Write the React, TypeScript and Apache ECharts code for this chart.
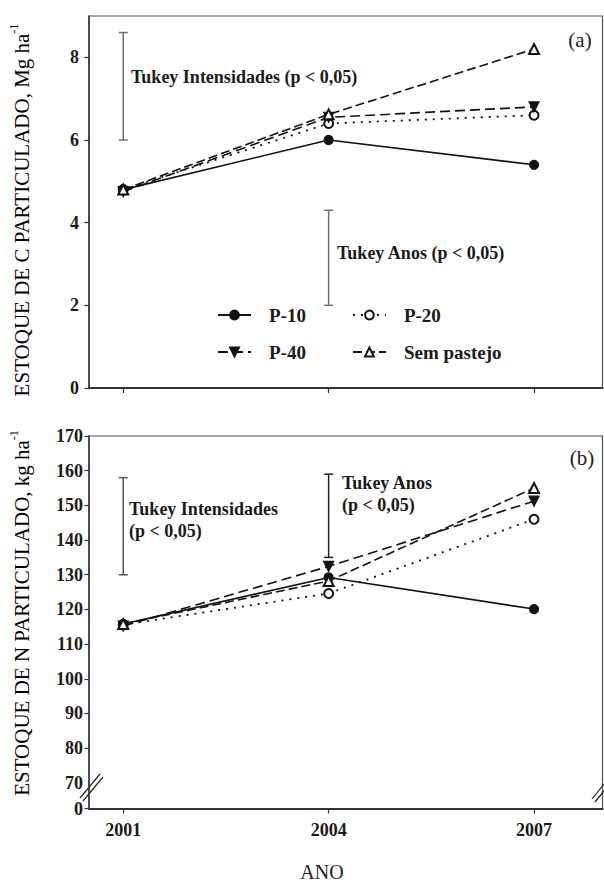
import React, { useEffect, useRef } from 'react';
import * as echarts from 'echarts';

// ---- data ----
const years = [2001, 2004, 2007];
const legendRow1 = ['P-10', 'P-20'];
const legendRow2 = ['P-40', 'Sem pastejo'];

// (a) Estoque de C particulado, Mg/ha
const cP10 = [4.8, 6.0, 5.4];
const cP20 = [4.8, 6.4, 6.6];
const cP40 = [4.75, 6.55, 6.8];
const cSem = [4.8, 6.62, 8.2];
// Tukey bars: [year, low, high]
const cTukey = [
  [2001, 6.0, 8.6],
  [2004, 2.0, 4.3],
];
const cTicks = [0, 2, 4, 6, 8];

// (b) Estoque de N particulado, kg/ha
const nP10 = [115.8, 129.2, 120.1];
const nP20 = [115.6, 124.6, 146.0];
const nP40 = [115.2, 132.4, 151.2];
const nSem = [115.8, 128.2, 155.0];
const nTukey = [
  [2001, 130, 158],
  [2004, 135, 159],
];
const nTickLabels = [70, 80, 90, 100, 110, 120, 130, 140, 150, 160, 170];
const nBreakValue = 62.6; // bottom of broken axis, labelled "0"

const FONT = 'Liberation Serif';

const pair = (vals: number[]) => years.map((y, i) => [y, vals[i]]);

const styleFor: Record<string, any> = {
  'P-10': { symbol: 'circle', symbolSize: 9, symbolRotate: 0, line: { type: 'solid', width: 1.6 } },
  'P-20': { symbol: 'emptyCircle', symbolSize: 9, symbolRotate: 0, line: { type: [2, 6], width: 1.8 } },
  'P-40': { symbol: 'triangle', symbolSize: 10, symbolRotate: 180, line: { type: [10, 5], width: 1.6 } },
  'Sem pastejo': { symbol: 'emptyTriangle', symbolSize: 10, symbolRotate: 0, line: { type: [9, 4], width: 1.6 } },
};

function lineSeries(name: string, vals: number[], idx: number) {
  const s = styleFor[name];
  return {
    type: 'line',
    name,
    xAxisIndex: idx,
    yAxisIndex: idx,
    data: pair(vals),
    symbol: s.symbol,
    symbolSize: s.symbolSize,
    symbolRotate: s.symbolRotate,
    showAllSymbol: true,
    itemStyle: { color: '#111', borderColor: '#111', borderWidth: 1.2 },
    lineStyle: { color: '#111', width: s.line.width, type: s.line.type },
    z: 3,
  };
}

function tukeySeries(data: number[][], idx: number, colors: string[]) {
  return {
    type: 'custom',
    name: 'tukey' + idx,
    xAxisIndex: idx,
    yAxisIndex: idx,
    data,
    silent: true,
    z: 2,
    renderItem: (params: any, api: any) => {
      const x = api.value(0);
      const lo = api.coord([x, api.value(1)]);
      const hi = api.coord([x, api.value(2)]);
      const w = 4.5;
      const style = { stroke: colors[params.dataIndex] || '#333', lineWidth: 1.5 };
      return {
        type: 'group',
        children: [
          { type: 'line', shape: { x1: lo[0], y1: lo[1], x2: hi[0], y2: hi[1] }, style },
          { type: 'line', shape: { x1: lo[0] - w, y1: lo[1], x2: lo[0] + w, y2: lo[1] }, style },
          { type: 'line', shape: { x1: hi[0] - w, y1: hi[1], x2: hi[0] + w, y2: hi[1] }, style },
        ],
      };
    },
  };
}

const tickLabelStyle = {
  fontFamily: FONT,
  fontWeight: 'bold',
  fontSize: 18,
  color: '#1a1a1a',
};

function axisName(text: string, x: number, y: number) {
  return {
    type: 'text',
    x,
    y,
    rotation: Math.PI / 2,
    style: {
      text: '{n|' + text + '}{s|-1}',
      align: 'center',
      verticalAlign: 'middle',
      rich: {
        n: { fontFamily: FONT, fontSize: 21, color: '#222', lineHeight: 24, verticalAlign: 'bottom' },
        s: { fontFamily: FONT, fontSize: 12, color: '#222', lineHeight: 14, verticalAlign: 'top' },
      },
    },
  };
}

function label(text: string, x: number, y: number, opts: any = {}) {
  return {
    type: 'text',
    x,
    y,
    style: {
      text,
      fontFamily: FONT,
      fontWeight: 'bold',
      fontSize: 18,
      fill: '#1a1a1a',
      align: 'left',
      verticalAlign: 'middle',
      lineHeight: 22,
      ...opts,
    },
  };
}

export default function App() {
  const ref = useRef<HTMLDivElement>(null);
  useEffect(() => {
    if (!ref.current) return;
    const chart = echarts.init(ref.current, null, { renderer: 'svg' });
    const legendBase = {
      orient: 'horizontal',
      padding: 0,
      itemWidth: 33,
      itemHeight: 11,
      itemGap: 46,
      selectedMode: false,
      textStyle: {
        fontFamily: FONT,
        fontWeight: 'bold',
        fontSize: 19,
        color: '#1a1a1a',
        padding: [0, 0, 0, 13],
        lineHeight: 20,
      },
    };
    const option: any = {
      animation: false,
      backgroundColor: '#fff',
      textStyle: { fontFamily: FONT },
      grid: [
        { left: 89, top: 16, width: 513.5, height: 372, show: true, borderColor: '#555', borderWidth: 1.2, backgroundColor: 'transparent' },
        { left: 89, top: 436, width: 513.5, height: 372.5, show: true, borderColor: '#555', borderWidth: 1.2, backgroundColor: 'transparent' },
      ],
      xAxis: [0, 1].map((i) => ({
        type: 'value',
        gridIndex: i,
        min: 2000.5,
        max: 2008,
        axisLine: { show: true, onZero: false, lineStyle: { color: '#333', width: 2 } },
        axisTick: { show: true, customValues: years, length: 5, lineStyle: { color: '#333', width: 1.2 } },
        axisLabel: {
          show: i === 1,
          customValues: years,
          margin: 12,
          formatter: (v: number) => String(Math.round(v)),
          ...tickLabelStyle,
        },
        splitLine: { show: false },
      })),
      yAxis: [
        {
          type: 'value',
          gridIndex: 0,
          min: 0,
          max: 9,
          axisLine: { show: true, lineStyle: { color: '#333', width: 1.5 } },
          axisTick: { show: true, customValues: cTicks, length: 4.5, lineStyle: { color: '#333', width: 1.2 } },
          axisLabel: { customValues: cTicks, margin: 10, formatter: (v: number) => String(v), ...tickLabelStyle },
          splitLine: { show: false },
        },
        {
          type: 'value',
          gridIndex: 1,
          min: nBreakValue,
          max: 170,
          axisLine: { show: true, lineStyle: { color: '#333', width: 1.5 } },
          axisTick: {
            show: true,
            customValues: [nBreakValue, ...nTickLabels.slice(1)],
            length: 4.5,
            lineStyle: { color: '#333', width: 1.2 },
          },
          axisLabel: {
            customValues: [nBreakValue, ...nTickLabels],
            margin: 6,
            formatter: (v: number) => (v < 65 ? '0' : String(Math.round(v))),
            ...tickLabelStyle,
          },
          splitLine: { show: false },
        },
      ],
      legend: [
        { ...legendBase, left: 217, top: 305, data: legendRow1 },
        { ...legendBase, left: 217, top: 342, data: legendRow2 },
      ],
      series: [
        tukeySeries(cTukey, 0, ['#707070', '#707070']),
        lineSeries('P-10', cP10, 0),
        lineSeries('P-20', cP20, 0),
        lineSeries('P-40', cP40, 0),
        lineSeries('Sem pastejo', cSem, 0),
        tukeySeries(nTukey, 1, ['#555', '#222']),
        lineSeries('P-10', nP10, 1),
        lineSeries('P-20', nP20, 1),
        lineSeries('P-40', nP40, 1),
        lineSeries('Sem pastejo', nSem, 1),
      ],
      graphic: [
        axisName('ESTOQUE DE C PARTICULADO, Mg ha', 20, 210),
        axisName('ESTOQUE DE N PARTICULADO, kg ha', 20, 613),
        label('Tukey Intensidades (p < 0,05)', 131, 77),
        label('Tukey Anos (p < 0,05)', 337, 253),
        label('Tukey Intensidades\n(p < 0,05)', 129, 520),
        label('Tukey Anos\n(p < 0,05)', 342, 494),
        label('(a)', 580, 40, { fontWeight: 'normal', fontSize: 21, align: 'center', fill: '#222' }),
        label('(b)', 582, 458, { fontWeight: 'normal', fontSize: 21, align: 'center', fill: '#222' }),
        label('ANO', 322, 872, { fontWeight: 'normal', fontSize: 20, align: 'center', fill: '#222' }),
        // axis break marks
        { type: 'line', shape: { x1: 80, y1: 798, x2: 100, y2: 774 }, style: { stroke: '#222', lineWidth: 1.2 } },
        { type: 'line', shape: { x1: 83, y1: 801, x2: 103, y2: 777 }, style: { stroke: '#222', lineWidth: 1.2 } },
        { type: 'line', shape: { x1: 592, y1: 799, x2: 604, y2: 784 }, style: { stroke: '#222', lineWidth: 1.2 } },
        { type: 'line', shape: { x1: 595, y1: 802, x2: 604, y2: 791 }, style: { stroke: '#222', lineWidth: 1.2 } },
      ],
    };
    chart.setOption(option);
    return () => chart.dispose();
  }, []);
  return (
    <div
      ref={ref}
      style={{ position: 'fixed', left: 0, top: 0, width: 604, height: 883, background: '#fff' }}
    />
  );
}
